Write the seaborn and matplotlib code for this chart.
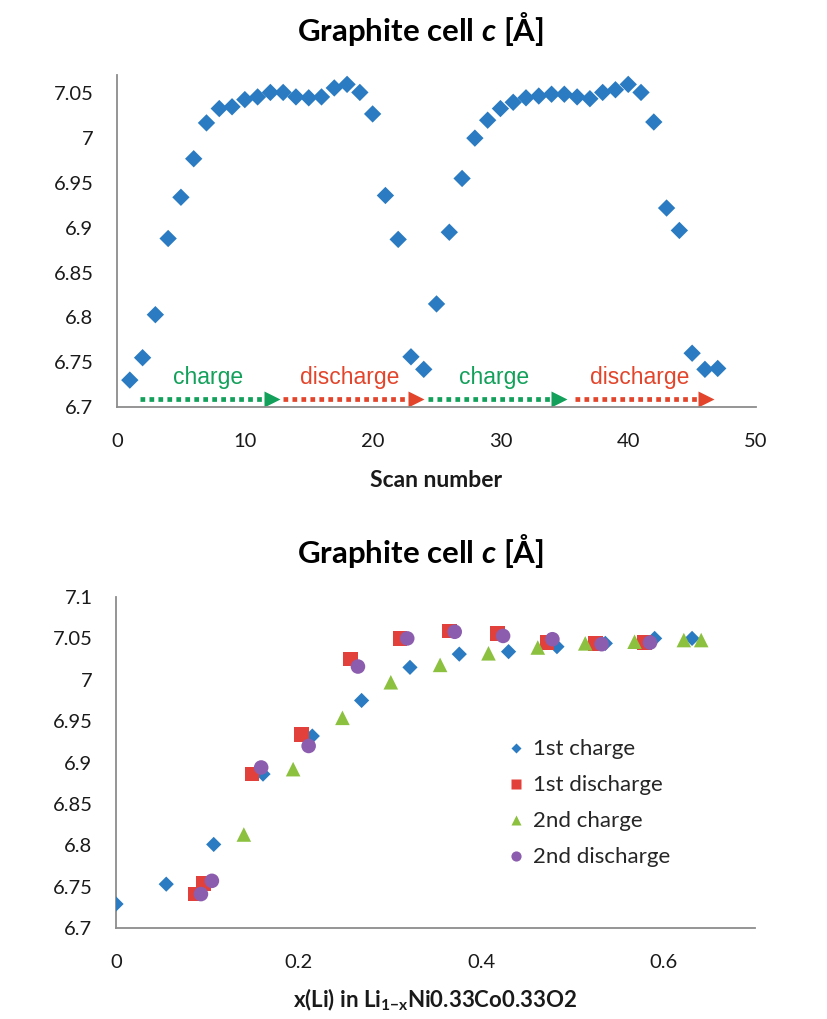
import numpy as np
import pandas as pd
import matplotlib
matplotlib.use("Agg")
import matplotlib.pyplot as plt
from matplotlib.ticker import FuncFormatter, MultipleLocator
import seaborn as sns


# DATA - top chart (c vs scan number)
scan = list(range(1, 48))
c_scan = [6.730, 6.755, 6.803, 6.888, 6.934, 6.977, 7.017, 7.033, 7.035, 7.043,
          7.046, 7.051, 7.051, 7.046, 7.045, 7.046, 7.056, 7.060, 7.051, 7.027,
          6.936, 6.887, 6.756, 6.742, 6.815, 6.895, 6.955, 7.000, 7.020, 7.033,
          7.040, 7.045, 7.047, 7.049, 7.049, 7.046, 7.044, 7.051, 7.054, 7.060,
          7.051, 7.018, 6.922, 6.897, 6.760, 6.742, 6.743]

# DATA - bottom chart (c vs x(Li))
x_ch1 = [0.000, 0.055, 0.107, 0.161, 0.215, 0.269, 0.322, 0.376, 0.430, 0.483, 0.536, 0.590, 0.631]
c_ch1 = [6.729, 6.753, 6.801, 6.886, 6.932, 6.975, 7.015, 7.031, 7.034, 7.040, 7.044, 7.050, 7.050]

x_dis1 = [0.087, 0.096, 0.149, 0.203, 0.257, 0.311, 0.365, 0.418, 0.472, 0.525, 0.579]
c_dis1 = [6.741, 6.754, 6.886, 6.934, 7.025, 7.050, 7.059, 7.056, 7.045, 7.044, 7.045]

x_ch2 = [0.140, 0.194, 0.248, 0.301, 0.355, 0.408, 0.462, 0.514, 0.568, 0.622, 0.641]
c_ch2 = [6.813, 6.892, 6.954, 6.997, 7.018, 7.032, 7.039, 7.044, 7.046, 7.048, 7.048]

x_dis2 = [0.093, 0.105, 0.159, 0.211, 0.265, 0.319, 0.371, 0.424, 0.478, 0.532, 0.585]
c_dis2 = [6.741, 6.757, 6.894, 6.920, 7.016, 7.050, 7.058, 7.053, 7.049, 7.043, 7.045]

series_names = ["1st charge", "1st discharge", "2nd charge", "2nd discharge"]

# build a long table for seaborn
bottom_df = pd.concat([
    pd.DataFrame({"x": x_ch1, "c": c_ch1, "series": series_names[0]}),
    pd.DataFrame({"x": x_dis1, "c": c_dis1, "series": series_names[1]}),
    pd.DataFrame({"x": x_ch2, "c": c_ch2, "series": series_names[2]}),
    pd.DataFrame({"x": x_dis2, "c": c_dis2, "series": series_names[3]}),
], ignore_index=True)
top_df = pd.DataFrame({"scan": scan, "c": c_scan})


# STYLE
sns.set_theme(style="white")
plt.rcParams["font.family"] = ["Lato", "DejaVu Sans"]
plt.rcParams["mathtext.fontset"] = "custom"
plt.rcParams["mathtext.rm"] = "Lato"
plt.rcParams["mathtext.it"] = "Lato:italic"
plt.rcParams["mathtext.bf"] = "Lato:bold"
plt.rcParams["mathtext.bfit"] = "Lato:italic:bold"

BLUE = "#2A7BC1"
RED = "#E2403B"
GREEN = "#8CC13F"
PURPLE = "#8C5DAE"
AXIS_GREY = "#8C8C8C"
TXT = "#1A1A1A"

palette = dict(zip(series_names, [BLUE, RED, GREEN, PURPLE]))
markers = dict(zip(series_names, ["D", "s", "^", "o"]))
sizes = {"1st charge": 60, "1st discharge": 110, "2nd charge": 110, "2nd discharge": 110}


def style_axes(ax):
    sns.despine(ax=ax)
    for side in ["left", "bottom"]:
        ax.spines[side].set_color(AXIS_GREY)
        ax.spines[side].set_linewidth(1.3)
    ax.tick_params(axis="both", which="both", direction="out", length=7, width=1.2,
                   color=AXIS_GREY, labelsize=14.5, labelcolor=TXT)
    ax.tick_params(axis="y", pad=10)
    ax.tick_params(axis="x", pad=12)
    ax.yaxis.set_major_formatter(FuncFormatter(lambda v, p: f"{round(v, 3):g}"))
    ax.grid(False)


fig = plt.figure(figsize=(8.27, 10.19), dpi=100)
ax1 = fig.add_axes([0.1415, 0.6006, 0.7727, 0.3254])
ax2 = fig.add_axes([0.1403, 0.0893, 0.7727, 0.3248])


# TOP CHART
sns.scatterplot(data=top_df, x="scan", y="c", marker="D", s=78, color=BLUE,
                edgecolor="none", ax=ax1)
ax1.set_xlim(0, 50)
ax1.set_ylim(6.7, 7.07)
ax1.xaxis.set_major_locator(MultipleLocator(10))
ax1.set_yticks(np.arange(6.7, 7.051, 0.05))
style_axes(ax1)
ax1.set_xlabel("Scan number", fontsize=16.5, fontweight="bold", color=TXT, labelpad=14)
ax1.set_ylabel("")

# charge / discharge arrows
arrow_y = 6.709
arrows = [(1.8, 12.1, "#12A05A"), (13.0, 23.4, "#E2452B"),
          (24.3, 34.6, "#12A05A"), (35.8, 46.1, "#E2452B")]
for x0, x1, col in arrows:
    ax1.plot([x0, x1 - 0.7], [arrow_y, arrow_y], color=col, lw=3.4,
             ls=(0, (1, 0.9)), solid_capstyle="butt", clip_on=False)
    ax1.plot([x1], [arrow_y], marker=">", ms=12, color=col, mec="none", clip_on=False)

labels = [(7.1, "charge", "#12A05A"), (18.2, "discharge", "#E2452B"),
          (29.5, "charge", "#12A05A"), (40.9, "discharge", "#E2452B")]
for xc, txt, col in labels:
    ax1.text(xc, 6.733, txt, color=col, fontsize=16.5, ha="center", va="center",
             family=["Liberation Sans", "DejaVu Sans"])


# BOTTOM CHART
sns.scatterplot(data=bottom_df, x="x", y="c", hue="series", style="series",
                palette=palette, markers=markers, size="series", sizes=sizes,
                edgecolor="none", ax=ax2, zorder=3)
ax2.set_xlim(0, 0.7)
ax2.set_ylim(6.7, 7.1)
ax2.xaxis.set_major_locator(MultipleLocator(0.2))
ax2.xaxis.set_minor_locator(MultipleLocator(0.1))
ax2.xaxis.set_major_formatter(FuncFormatter(lambda v, p: f"{round(v, 3):g}"))
ax2.set_yticks(np.arange(6.7, 7.101, 0.05))
style_axes(ax2)
ax2.set_xlabel(r"x(Li) in Li$_\mathbf{1{-}x}$Ni0.33Co0.33O2", fontsize=16,
               fontweight="bold", color=TXT, labelpad=11)
ax2.set_ylabel("")

handles, lbls = ax2.get_legend_handles_labels()
ax2.legend(handles, lbls, loc="upper left", bbox_to_anchor=(0.577, 0.63),
           frameon=False, fontsize=16, markerscale=0.7, handletextpad=0.25,
           labelspacing=0.72, handlelength=1.0)


# TITLES
for ypos in [0.972, 0.459]:
    fig.text(0.508, ypos, r"Graphite cell $\mathbfit{c}$ [Å]", fontsize=22.5,
             fontweight="bold", ha="center", va="center", color="#000000")

fig.savefig("out.png", dpi=100)
